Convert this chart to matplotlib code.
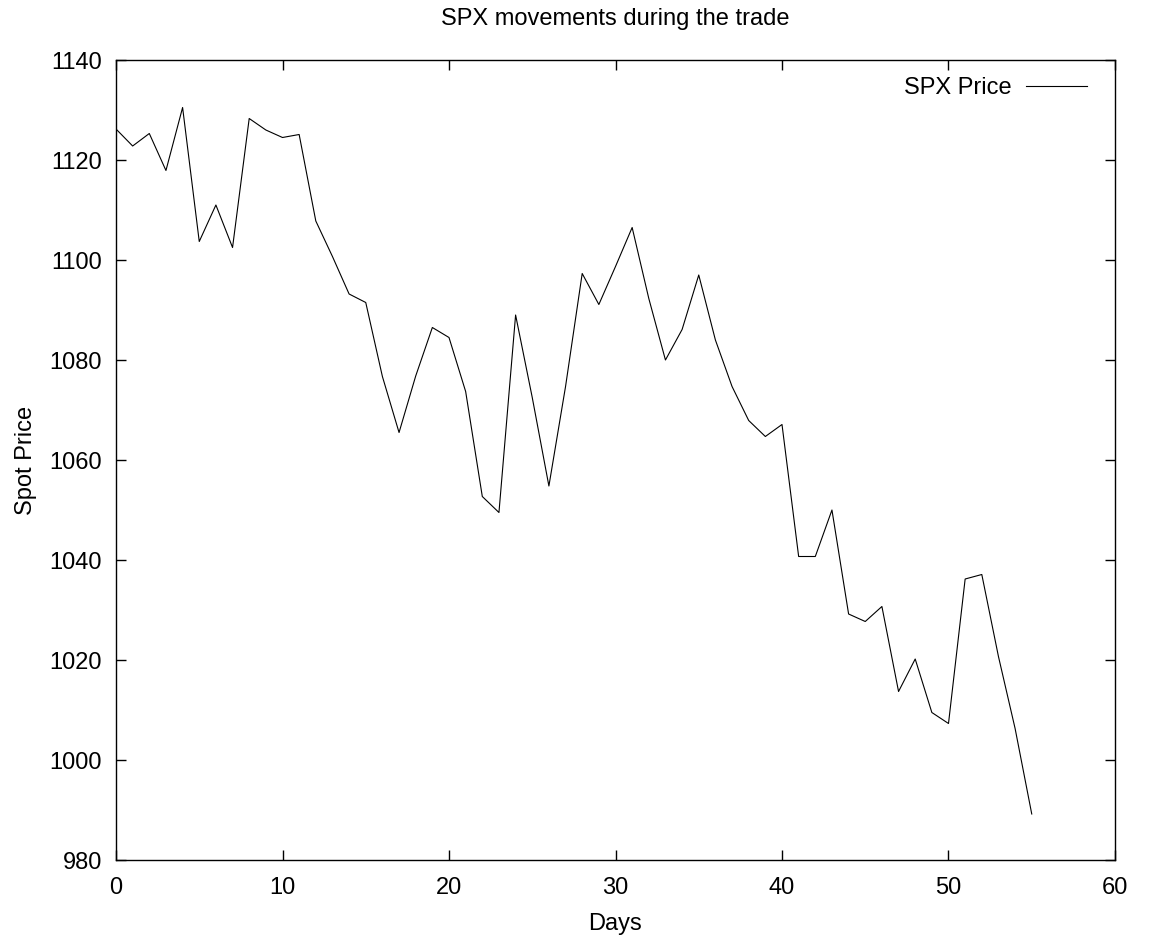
import matplotlib
matplotlib.use("Agg")
import matplotlib.pyplot as plt

days = list(range(56))
spx_price = [1126.2, 1122.8, 1125.3, 1117.9, 1130.5, 1103.7, 1111.0, 1102.5, 1128.3, 1126.0,
             1124.5, 1125.1, 1107.8, 1100.7, 1093.2, 1091.5, 1076.7, 1065.5, 1076.8, 1086.5,
             1084.5, 1073.7, 1052.7, 1049.5, 1089.0, 1072.5, 1054.8, 1074.7, 1097.3, 1091.1,
             1098.7, 1106.5, 1092.3, 1080.0, 1086.1, 1097.0, 1084.0, 1074.7, 1067.9, 1064.7,
             1067.1, 1040.7, 1040.7, 1050.0, 1029.2, 1027.7, 1030.7, 1013.7, 1020.2, 1009.5,
             1007.3, 1036.2, 1037.1, 1020.7, 1006.3, 989.2]
x_ticks = [0, 10, 20, 30, 40, 50, 60]
y_ticks = [980, 1000, 1020, 1040, 1060, 1080, 1100, 1120, 1140]

plt.rcParams['font.family'] = ['Liberation Sans', 'DejaVu Sans']
fs = 17

fig = plt.figure(figsize=(11.49, 9.46), dpi=100)
ax = fig.add_axes([116/1149, 86/946, (1115-116)/1149, (860-60)/946])
ax.plot(days, spx_price, color='black', linewidth=0.8, label='SPX Price')
ax.set_xlim(0, 60)
ax.set_ylim(980, 1140)
ax.set_xticks(x_ticks)
ax.set_yticks(y_ticks)
ax.tick_params(direction='in', length=7, width=1.0, top=True, right=True,
               labelsize=fs, pad=10)
ax.tick_params(axis='x', pad=12)
for s in ax.spines.values():
    s.set_linewidth(1.0)
ax.set_title('SPX movements during the trade', fontsize=fs, pad=25)
ax.set_xlabel('Days', fontsize=fs, labelpad=10)
ax.set_ylabel('Spot Price', fontsize=fs, labelpad=9)
ax.legend(loc='upper right', bbox_to_anchor=(0.972, 0.979), frameon=False,
          markerfirst=False, fontsize=fs, handlelength=2.6, borderpad=0,
          borderaxespad=0, handletextpad=0.6)
fig.savefig('out.png', dpi=100)
